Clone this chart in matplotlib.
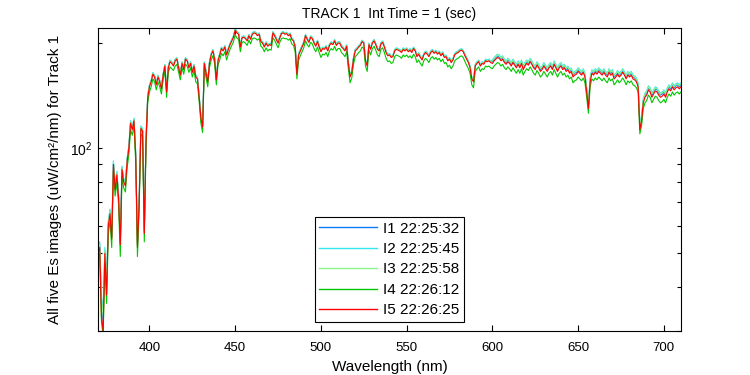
import numpy as np
import matplotlib
matplotlib.use("Agg")
import matplotlib.pyplot as plt
from matplotlib.ticker import LogLocator, NullFormatter, FixedLocator, LogFormatterMathtext

wavelength = list(range(370, 711))

I5 = [50, 52, 33, 30, 50, 38, 60, 65, 55, 90,
      76, 84, 72, 53, 87, 80, 78, 92, 100, 118,
      113, 120, 95, 52, 70, 114, 112, 57, 105, 140,
      150, 155, 163, 160, 152, 160, 155, 148, 162, 172,
      145, 170, 177, 175, 172, 178, 180, 170, 162, 175,
      168, 180, 178, 170, 175, 165, 172, 160, 158, 140,
      122, 115, 175, 165, 155, 175, 185, 190, 180, 157,
      178, 185, 193, 190, 195, 185, 192, 198, 203, 208,
      218, 214, 212, 195, 207, 208, 206, 203, 210, 205,
      212, 214, 213, 210, 212, 202, 200, 195, 200, 196,
      198, 197, 214, 210, 205, 200, 207, 213, 214, 212,
      213, 210, 212, 205, 203, 195, 163, 185, 190, 195,
      200, 210, 205, 201, 208, 206, 200, 196, 202, 195,
      189, 193, 192, 195, 190, 197, 200, 198, 203, 197,
      200, 200, 195, 193, 190, 196, 175, 160, 165, 180,
      190, 192, 195, 197, 202, 200, 178, 172, 198, 192,
      200, 203, 198, 192, 190, 199, 201, 195, 188, 184,
      185, 182, 183, 190, 192, 191, 190, 188, 192, 190,
      192, 189, 191, 188, 193, 190, 183, 186, 182, 179,
      185, 188, 186, 183, 188, 190, 187, 189, 186, 188,
      184, 187, 182, 183, 178, 180, 176, 179, 185, 187,
      188, 190, 191, 189, 184, 180, 176, 170, 158, 155,
      172, 175, 177, 172, 175, 174, 178, 177, 178, 176,
      175, 178, 180, 182, 181, 178, 180, 176, 174, 177,
      175, 172, 176, 173, 170, 174, 170, 175, 168, 172,
      175, 173, 177, 174, 170, 168, 173, 170, 166, 168,
      172, 169, 166, 170, 172, 168, 174, 170, 166, 170,
      172, 168, 170, 166, 168, 164, 166, 160, 162, 163,
      166, 164, 162, 165, 160, 145, 130, 155, 164, 162,
      165, 163, 166, 164, 162, 165, 162, 160, 165, 162,
      164, 158, 160, 163, 160, 162, 165, 162, 158, 162,
      160, 162, 158, 157, 155, 150, 113, 120, 135, 140,
      142, 147, 145, 140, 143, 146, 145, 142, 140, 141,
      143, 140, 145, 148, 146, 150, 147, 149, 150, 148, 150]

I4 = [48, 50, 32, 29, 47, 36, 57, 62, 52, 86,
      73, 80, 69, 49, 83, 77, 75, 88, 96, 113,
      109, 116, 91, 49, 67, 110, 108, 54, 101, 135,
      145, 150, 158, 155, 147, 155, 150, 143, 157, 167,
      140, 165, 171, 169, 167, 172, 174, 165, 157, 170,
      163, 174, 172, 165, 170, 160, 167, 155, 153, 136,
      118, 111, 170, 160, 150, 170, 179, 184, 175, 152,
      173, 179, 187, 184, 189, 179, 186, 192, 197, 202,
      211, 207, 205, 189, 201, 202, 200, 197, 204, 199,
      206, 207, 206, 204, 206, 196, 194, 189, 194, 190,
      192, 191, 207, 204, 199, 194, 201, 206, 207, 206,
      206, 204, 206, 199, 197, 189, 158, 179, 184, 189,
      194, 203, 198, 195, 201, 199, 193, 189, 195, 188,
      182, 186, 185, 188, 183, 190, 193, 191, 196, 190,
      193, 193, 188, 186, 183, 189, 169, 154, 159, 174,
      183, 185, 188, 190, 195, 193, 172, 166, 191, 185,
      193, 196, 191, 185, 183, 192, 194, 188, 181, 177,
      178, 175, 176, 183, 185, 184, 183, 181, 185, 183,
      185, 182, 184, 181, 186, 183, 176, 179, 175, 172,
      178, 181, 179, 176, 181, 183, 180, 182, 179, 181,
      177, 180, 175, 176, 171, 173, 169, 172, 178, 180,
      181, 183, 184, 182, 177, 173, 169, 164, 152, 149,
      166, 169, 171, 166, 169, 168, 172, 171, 172, 170,
      169, 172, 174, 176, 175, 172, 174, 170, 168, 171,
      169, 166, 170, 167, 164, 168, 164, 169, 162, 166,
      169, 167, 171, 168, 164, 162, 167, 164, 160, 162,
      166, 163, 160, 164, 166, 162, 168, 164, 160, 164,
      166, 162, 164, 160, 162, 158, 160, 154, 156, 157,
      160, 158, 156, 159, 154, 140, 126, 150, 158, 156,
      159, 157, 160, 158, 156, 159, 156, 154, 159, 156,
      158, 152, 154, 157, 154, 156, 159, 156, 152, 156,
      154, 156, 152, 151, 149, 145, 110, 116, 130, 135,
      137, 142, 140, 135, 138, 141, 140, 137, 135, 136,
      138, 135, 140, 143, 141, 145, 142, 144, 145, 143, 145]

I2 = [52, 54, 38, 34, 52, 42, 62, 67, 57, 92,
      78, 86, 74, 55, 89, 82, 80, 94, 102, 120,
      115, 122, 97, 54, 72, 116, 114, 59, 107, 142,
      152, 157, 165, 162, 154, 162, 157, 150, 164, 174,
      147, 172, 179, 177, 174, 180, 182, 172, 164, 177,
      170, 182, 180, 172, 177, 167, 174, 162, 160, 142,
      124, 117, 177, 167, 157, 177, 187, 192, 182, 159,
      180, 187, 195, 192, 197, 187, 194, 200, 205, 210,
      220, 216, 214, 197, 209, 210, 208, 205, 212, 207,
      214, 216, 215, 212, 214, 204, 202, 197, 202, 198,
      200, 199, 216, 212, 207, 202, 209, 215, 216, 214,
      215, 212, 214, 207, 205, 197, 165, 187, 192, 197,
      202, 212, 207, 203, 210, 208, 202, 198, 204, 197,
      191, 195, 194, 197, 192, 199, 202, 200, 205, 199,
      202, 202, 197, 195, 192, 198, 177, 162, 167, 182,
      192, 194, 197, 199, 204, 202, 180, 174, 200, 194,
      202, 205, 200, 194, 192, 201, 203, 197, 190, 186,
      187, 184, 185, 192, 194, 193, 192, 190, 194, 192,
      194, 191, 193, 190, 195, 192, 185, 188, 184, 181,
      187, 190, 188, 185, 190, 192, 189, 191, 188, 190,
      186, 189, 184, 185, 180, 182, 178, 181, 187, 189,
      190, 192, 193, 191, 186, 182, 178, 172, 160, 157,
      174, 177, 179, 174, 177, 176, 180, 179, 180, 178,
      179, 182, 184, 186, 185, 182, 184, 180, 178, 181,
      179, 176, 180, 177, 174, 178, 174, 179, 172, 176,
      179, 177, 181, 178, 174, 172, 177, 174, 170, 172,
      176, 173, 170, 174, 176, 172, 178, 174, 170, 174,
      176, 172, 174, 170, 172, 168, 170, 164, 166, 167,
      170, 168, 166, 169, 164, 149, 134, 159, 168, 166,
      169, 167, 170, 168, 166, 169, 166, 164, 169, 166,
      168, 162, 164, 167, 164, 166, 169, 166, 162, 166,
      164, 166, 162, 161, 159, 154, 118, 123, 139, 144,
      146, 151, 149, 144, 147, 150, 149, 146, 144, 145,
      147, 144, 149, 152, 150, 154, 151, 153, 154, 152, 154]

I1 = [51, 53, 36, 32, 51, 40, 61, 66, 56, 91,
      77, 85, 73, 54, 88, 81, 79, 93, 101, 119,
      114, 121, 96, 53, 71, 115, 113, 58, 106, 141,
      151, 156, 164, 161, 153, 161, 156, 149, 163, 173,
      146, 171, 178, 176, 173, 179, 181, 171, 163, 176,
      169, 181, 179, 171, 176, 166, 173, 161, 159, 141,
      123, 116, 176, 166, 156, 176, 186, 191, 181, 158,
      179, 186, 194, 191, 196, 186, 193, 199, 204, 209,
      219, 215, 213, 196, 208, 209, 207, 204, 211, 206,
      213, 215, 214, 211, 213, 203, 201, 196, 201, 197,
      199, 198, 215, 211, 206, 201, 208, 214, 215, 213,
      214, 211, 213, 206, 204, 196, 164, 186, 191, 196,
      201, 211, 206, 202, 209, 207, 201, 197, 203, 196,
      190, 194, 193, 196, 191, 198, 201, 199, 204, 198,
      201, 201, 196, 194, 191, 197, 176, 161, 166, 181,
      191, 193, 196, 198, 203, 201, 179, 173, 199, 193,
      201, 204, 199, 193, 191, 200, 202, 196, 189, 185,
      186, 183, 184, 191, 193, 192, 191, 189, 193, 191,
      193, 190, 192, 189, 194, 191, 184, 187, 183, 180,
      186, 189, 187, 184, 189, 191, 188, 190, 187, 189,
      185, 188, 183, 184, 179, 181, 177, 180, 186, 188,
      189, 191, 192, 190, 185, 181, 177, 171, 159, 156,
      173, 176, 178, 173, 176, 175, 179, 178, 179, 177,
      177, 180, 182, 184, 183, 180, 182, 178, 176, 179,
      177, 174, 178, 175, 172, 176, 172, 177, 170, 174,
      177, 175, 179, 176, 172, 170, 175, 172, 168, 170,
      174, 171, 168, 172, 174, 170, 176, 172, 168, 172,
      174, 170, 172, 168, 170, 166, 168, 162, 164, 165,
      168, 166, 164, 167, 162, 147, 132, 157, 166, 164,
      167, 165, 168, 166, 164, 167, 164, 162, 167, 164,
      166, 160, 162, 165, 162, 164, 167, 164, 160, 164,
      162, 164, 160, 159, 157, 152, 117, 122, 137, 142,
      144, 149, 147, 142, 145, 148, 147, 144, 142, 143,
      145, 142, 147, 150, 148, 152, 149, 151, 152, 150, 152]

I3 = [51, 53, 37, 33, 51, 41, 61, 66, 56, 91,
      77, 85, 73, 54, 88, 81, 79, 93, 101, 119,
      114, 121, 96, 53, 71, 115, 113, 58, 106, 141,
      151, 156, 164, 161, 153, 161, 156, 149, 163, 173,
      146, 171, 178, 176, 173, 179, 181, 171, 163, 176,
      169, 181, 179, 171, 176, 166, 173, 161, 159, 141,
      123, 116, 176, 166, 156, 176, 186, 191, 181, 158,
      179, 186, 194, 191, 196, 186, 193, 199, 204, 209,
      219, 215, 213, 196, 208, 209, 207, 204, 211, 206,
      213, 215, 214, 211, 213, 203, 201, 196, 201, 197,
      199, 198, 215, 211, 206, 201, 208, 214, 215, 213,
      214, 211, 213, 206, 204, 196, 164, 186, 191, 196,
      201, 211, 206, 202, 209, 207, 201, 197, 203, 196,
      190, 194, 193, 196, 191, 198, 201, 199, 204, 198,
      201, 201, 196, 194, 191, 197, 176, 161, 166, 181,
      191, 193, 196, 198, 203, 201, 179, 173, 199, 193,
      201, 204, 199, 193, 191, 200, 202, 196, 189, 185,
      186, 183, 184, 191, 193, 192, 191, 189, 193, 191,
      193, 190, 192, 189, 194, 191, 184, 187, 183, 180,
      186, 189, 187, 184, 189, 191, 188, 190, 187, 189,
      185, 188, 183, 184, 179, 181, 177, 180, 186, 188,
      189, 191, 192, 190, 185, 181, 177, 171, 159, 156,
      173, 176, 178, 173, 176, 175, 179, 178, 179, 177,
      178, 181, 183, 185, 184, 181, 183, 179, 177, 180,
      178, 175, 179, 176, 173, 177, 173, 178, 171, 175,
      178, 176, 180, 177, 173, 171, 176, 173, 169, 171,
      175, 172, 169, 173, 175, 171, 177, 173, 169, 173,
      175, 171, 173, 169, 171, 167, 169, 163, 165, 166,
      169, 167, 165, 168, 163, 148, 133, 158, 167, 165,
      168, 166, 169, 167, 165, 168, 165, 163, 168, 165,
      167, 161, 163, 166, 163, 165, 168, 165, 161, 165,
      163, 165, 161, 160, 158, 153, 117, 122, 138, 143,
      145, 150, 148, 143, 146, 149, 148, 145, 143, 144,
      146, 143, 148, 151, 149, 153, 150, 152, 153, 151, 153]

labels = ["I1 22:25:32", "I2 22:25:45", "I3 22:25:58", "I4 22:26:12", "I5 22:26:25"]
colors = ["#0A7CF5", "#30E6F0", "#8AF58A", "#00C800", "#FF0000"]
series = [I1, I2, I3, I4, I5]

xticks = [400, 450, 500, 550, 600, 650, 700]
xlim = (370, 710)
ylim = (30, 221)

plt.rcParams['font.family'] = ['Liberation Sans', 'DejaVu Sans']
plt.rcParams['mathtext.fontset'] = 'custom'
plt.rcParams['mathtext.rm'] = 'Liberation Sans'

fig = plt.figure(figsize=(7.5, 3.75), dpi=100)
ax = fig.add_axes([98/750, 1-331/375, 583/750, 303/375])

for s, c, lab in zip(series, colors, labels):
    ax.plot(wavelength, s, color=c, lw=0.8, label=lab)

ax.set_yscale('log')
ax.set_xlim(*xlim)
ax.set_ylim(*ylim)
ax.xaxis.set_major_locator(FixedLocator(xticks))
ax.yaxis.set_major_locator(LogLocator(base=10, numticks=10))
ax.yaxis.set_major_formatter(LogFormatterMathtext())
ax.yaxis.set_minor_locator(LogLocator(base=10, subs=np.arange(2, 10), numticks=20))
ax.yaxis.set_minor_formatter(NullFormatter())

ax.tick_params(axis='x', which='both', direction='in', top=True, length=4, width=0.8, labelsize=9.5, pad=8)
ax.tick_params(axis='y', which='both', direction='in', right=True, length=3, width=0.8, labelsize=10, pad=4)
for sp in ax.spines.values():
    sp.set_linewidth(0.8)

ax.set_title("TRACK 1  Int Time = 1 (sec)", fontsize=10, pad=7)
ax.set_xlabel("Wavelength (nm)", fontsize=11, labelpad=4)
ax.set_ylabel("All five Es images (uW/cm²/nm) for Track 1", fontsize=11)
ax.yaxis.set_label_coords(-0.062, 0.5)

leg = ax.legend(loc='lower center', bbox_to_anchor=(0.5, 0.03), fontsize=11,
                frameon=True, fancybox=False, edgecolor='black', framealpha=1,
                handlelength=3.8, handletextpad=0.4, labelspacing=0.42,
                borderpad=0.3, borderaxespad=0)
leg.get_frame().set_linewidth(0.8)
for line in leg.get_lines():
    line.set_linewidth(1.0)

fig.savefig("out.png", dpi=100)
